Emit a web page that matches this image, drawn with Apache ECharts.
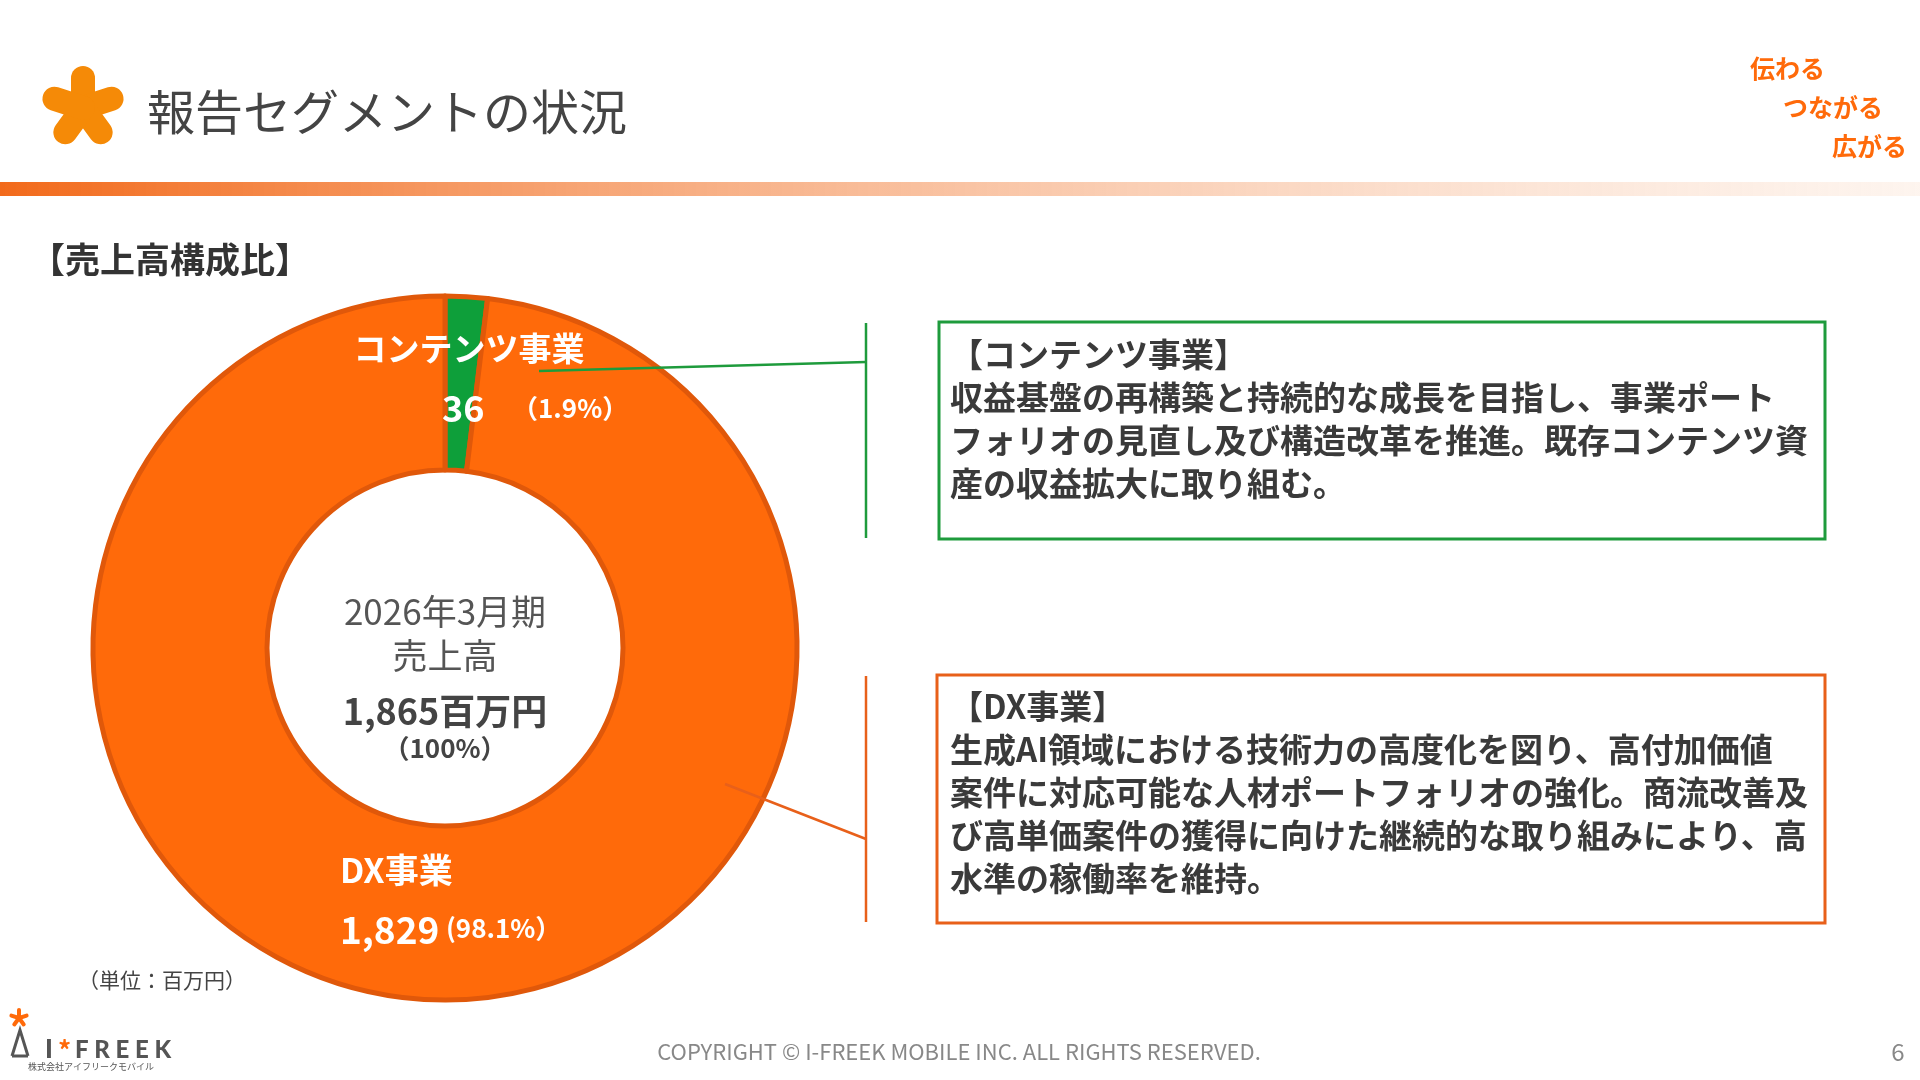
<!DOCTYPE html>
<html><head><meta charset="utf-8">
<script src="https://cdn.jsdelivr.net/npm/echarts@6/dist/echarts.min.js"></script>
<style>html,body{margin:0;padding:0;background:#fff}#c{width:1920px;height:1080px}</style>
</head><body><div id="c"></div>
<script>
const categories = ['コンテンツ事業', 'DX事業'];
const values = [36, 1829];
const shares = ['1.9%', '98.1%'];
const total = 1865;
const colors = ['#0E9F3A', '#FF6A0A'];
const F = '"Noto Sans CJK JP", "Noto Sans", sans-serif';
const chart = echarts.init(document.getElementById('c'));
function star(cx, cy, len, w, color) {
  const arr = [];
  for (let i = 0; i < 5; i++) {
    const a = -Math.PI / 2 + i * 2 * Math.PI / 5;
    arr.push({ type: 'line', shape: { x1: cx, y1: cy, x2: cx + len * Math.cos(a), y2: cy + len * Math.sin(a) },
      style: { stroke: color, lineWidth: w, lineCap: 'round' } });
  }
  return arr;
}
function t(x, y, text, size, opt) {
  return { type: 'text', x: x, y: y, style: Object.assign({ text: text, font: (opt && opt.bold ? 'bold ' : '') + size + 'px ' + F,
    fill: '#333', textAlign: 'left', textVerticalAlign: 'middle' }, opt && opt.style) };
}
const boxText1 = '【コンテンツ事業】\n収益基盤の再構築と持続的な成長を目指し、事業ポート\nフォリオの見直し及び構造改革を推進。既存コンテンツ資\n産の収益拡大に取り組む。';
const boxText2 = '【DX事業】\n生成AI領域における技術力の高度化を図り、高付加価値\n案件に対応可能な人材ポートフォリオの強化。商流改善及\nび高単価案件の獲得に向けた継続的な取り組みにより、高\n水準の稼働率を維持。';
const g = [].concat(star(83, 108, 30, 24, '#F58A07'), [
  t(147, 112, '報告セグメントの状況', 48, { style: { fill: '#444' } }),
  { type: 'rect', shape: { x: 0, y: 182, width: 1920, height: 14 },
    style: { fill: new echarts.graphic.LinearGradient(0, 0, 1, 0, [{ offset: 0, color: '#F26A1B' }, { offset: 1, color: 'rgba(250,220,200,0.3)' }]) } },
  t(1750, 68, '伝わる', 25, { bold: true, style: { fill: '#FF6A0A' } }),
  t(1783, 107, 'つながる', 25, { bold: true, style: { fill: '#FF6A0A' } }),
  t(1832, 146, '広がる', 25, { bold: true, style: { fill: '#FF6A0A' } }),
  t(30, 260, '【売上高構成比】', 35, { bold: true }),
  t(445, 612, '2026年3月期', 35, { style: { textAlign: 'center', fill: '#555' } }),
  t(445, 656, '売上高', 35, { style: { textAlign: 'center', fill: '#555' } }),
  t(445, 711, total.toLocaleString('en-US') + '百万円', 36, { bold: true, style: { textAlign: 'center', fill: '#444' } }),
  t(445, 748, '（100%）', 26, { bold: true, style: { textAlign: 'center', fill: '#444' } }),
  t(469, 348, categories[0], 33, { bold: true, style: { textAlign: 'center', fill: '#fff' } }),
  t(442, 408, String(values[0]), 36, { bold: true, style: { fill: '#fff' } }),
  t(512, 408, '（' + shares[0] + '）', 26, { bold: true, style: { fill: '#fff' } }),
  t(340, 870, categories[1], 34, { bold: true, style: { fill: '#fff' } }),
  t(340, 930, values[1].toLocaleString('en-US'), 37, { bold: true, style: { fill: '#fff' } }),
  t(446, 928, '(' + shares[1] + '）', 26, { bold: true, style: { fill: '#fff' } }),
  { type: 'line', shape: { x1: 539, y1: 371, x2: 866, y2: 362 }, style: { stroke: '#1E9B3C', lineWidth: 2.5 } },
  { type: 'line', shape: { x1: 866, y1: 323, x2: 866, y2: 538 }, style: { stroke: '#1E9B3C', lineWidth: 2.5 } },
  { type: 'line', shape: { x1: 725, y1: 784, x2: 866, y2: 839 }, style: { stroke: '#E8601A', lineWidth: 2.5 } },
  { type: 'line', shape: { x1: 866, y1: 676, x2: 866, y2: 922 }, style: { stroke: '#E8601A', lineWidth: 2.5 } },
  { type: 'rect', shape: { x: 939, y: 322, width: 886, height: 217 }, style: { fill: '#fff', stroke: '#1E9B3C', lineWidth: 3 } },
  { type: 'rect', shape: { x: 937, y: 675, width: 888, height: 248 }, style: { fill: '#fff', stroke: '#E8601A', lineWidth: 3 } },
  { type: 'text', x: 950, y: 333, style: { text: boxText1, font: 'bold 33px ' + F, fill: '#3a3a3a', lineHeight: 43 } },
  { type: 'text', x: 950, y: 685, style: { text: boxText2, font: 'bold 33px ' + F, fill: '#3a3a3a', lineHeight: 43 } },
  t(78, 980, '（単位：百万円）', 21, { style: { fill: '#444' } }),
  t(959, 1052, 'COPYRIGHT © I-FREEK MOBILE INC. ALL RIGHTS RESERVED.', 22, { style: { textAlign: 'center', fill: '#888' } }),
  t(1898, 1052, '6', 24, { style: { textAlign: 'center', fill: '#888' } }),
  t(45, 1050, 'I', 26, { style: { fill: '#555', font: '900 26px Lato, sans-serif' } }),
  t(58, 1050, '*', 26, { bold: true, style: { fill: '#FF6A0A' } }),
  t(75, 1050, 'F R E E K', 24, { style: { fill: '#555', font: '900 24px Lato, sans-serif' } }),
  t(28, 1067, '株式会社アイフリークモバイル', 9, { style: { fill: '#555' } }),
  { type: 'polyline', shape: { points: [[12, 1056], [20, 1030], [28, 1056]] }, style: { stroke: '#555', lineWidth: 3, fill: null } },
  { type: 'line', shape: { x1: 12, y1: 1056, x2: 28, y2: 1056 }, style: { stroke: '#555', lineWidth: 3 } }
], star(19, 1018, 8, 4, '#FF6A0A'));
g.forEach(e => { e.z = 100; });
chart.setOption({
  animation: false,
  series: [{
    type: 'pie', center: [445, 648], radius: [178, 352], startAngle: 90, clockwise: true,
    label: { show: false }, labelLine: { show: false }, silent: true,
    itemStyle: { borderColor: '#E0580A', borderWidth: 5 },
    data: categories.map((c, i) => ({ name: c, value: values[i], itemStyle: { color: colors[i] } }))
  }],
  graphic: { elements: g }
});
</script></body></html>
